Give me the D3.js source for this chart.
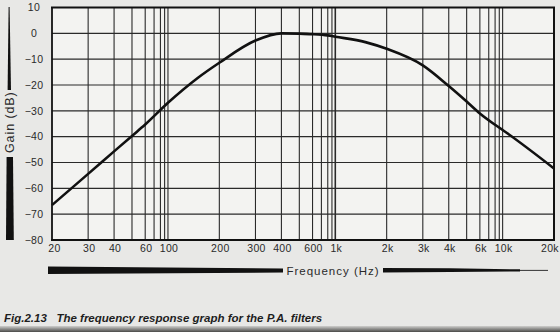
<!DOCTYPE html>
<html>
<head>
<meta charset="utf-8">
<script src="https://cdn.jsdelivr.net/npm/d3@7"></script>
<style>
  html, body { margin: 0; padding: 0; background: #e7e7e5; }
  svg { display: block; }
</style>
</head>
<body>
<svg id="chart" width="560" height="332"></svg>
<script>
// ---- data ----
const freqs = [20, 30, 40, 50, 60, 100, 150, 200, 300, 400, 500, 600, 800, 1000, 1500, 2000, 3000, 4000, 5000, 6000, 8000, 10000, 20000];
const gains = [-66.5, -54.4, -45.7, -39.7, -35.3, -26.9, -17.2, -11.4, -2.8, 0, -0.1, -0.3, -0.8, -1.3, -3.4, -6.0, -12.4, -20.4, -26.4, -31.0, -35.4, -37.4, -52.3];
const xTickValues = [20, 30, 40, 60, 100, 200, 300, 400, 600, 1000, 2000, 3000, 4000, 6000, 10000, 20000];
const xTickLabels = ["20", "30", "40", "60", "100", "200", "300", "400", "600", "1k", "2k", "3k", "4k", "6k", "10k", "20k"];
const yTickValues = [10, 0, -10, -20, -30, -40, -50, -60, -70, -80];
const yTickLabels = ["10", "0", "\u221210", "\u221220", "\u221230", "\u221240", "\u221250", "\u221260", "\u221270", "\u221280"];
const yLabel = "Gain (dB)";
const xLabel = "Frequency (Hz)";
const caption = "Fig.2.13   The frequency response graph for the P.A. filters";

// ---- layout ----
const L = 52, R = 554, T = 7.5, B = 240;
// position of 1..9 within a decade on this (hand-drawn) graph paper
const decadeFrac = [0, 0.307, 0.523, 0.678, 0.785, 0.864, 0.917, 0.955, 0.980];

// grid frequencies 20 .. 20000
const gridFreqs = [];
for (let k = 1; k <= 4; k++) {
  for (let m = 1; m <= 9; m++) {
    const f = m * Math.pow(10, k);
    if (f >= 20 && f <= 20000) gridFreqs.push(f);
  }
}
const paperUnit = f => {
  const k = Math.floor(Math.log10(f) + 1e-9);
  const m = Math.round(f / Math.pow(10, k));
  return k + decadeFrac[m - 1];
};
// piecewise scale from log-frequency to paper units, then to pixels
const paper = d3.scaleLinear()
  .domain(gridFreqs.map(f => Math.log10(f)))
  .range(gridFreqs.map(paperUnit));
const xPix = d3.scaleLinear()
  .domain([paper(Math.log10(20)), paper(Math.log10(20000))])
  .range([L, R]);
const x = f => xPix(paper(Math.log10(f)));
const y = d3.scaleLinear().domain([-80, 10]).range([B, T]);

const svg = d3.select("#chart");

// background
svg.append("rect").attr("x", 0).attr("y", 0).attr("width", 560).attr("height", 332).attr("fill", "#e8e8e6");
svg.append("rect").attr("x", L).attr("y", T).attr("width", R - L).attr("height", B - T).attr("fill", "#f3f3f1");

// bottom shadow
const defs = svg.append("defs");
const grad = defs.append("linearGradient").attr("id", "shade").attr("x1", 0).attr("y1", 0).attr("x2", 0).attr("y2", 1);
grad.append("stop").attr("offset", "0%").attr("stop-color", "#cfcfcd");
grad.append("stop").attr("offset", "100%").attr("stop-color", "#4a4a48");
svg.append("rect").attr("x", 0).attr("y", 326).attr("width", 560).attr("height", 6).attr("fill", "url(#shade)");

// grid
const g = svg.append("g");
g.selectAll("line.h").data(yTickValues.filter(v => v < 10 && v > -80)).enter().append("line")
  .attr("x1", L).attr("x2", R).attr("y1", d => y(d)).attr("y2", d => y(d))
  .attr("stroke", "#2a2a2a").attr("stroke-width", 1.1);
g.selectAll("line.v").data(gridFreqs.filter(f => f > 20 && f < 20000)).enter().append("line")
  .attr("y1", T).attr("y2", B).attr("x1", d => x(d)).attr("x2", d => x(d))
  .attr("stroke", "#2a2a2a").attr("stroke-width", d => (d === 1000 ? 1.6 : 1.1));

// frame
g.append("line").attr("x1", L - 1).attr("x2", R + 1).attr("y1", T).attr("y2", T).attr("stroke", "#111").attr("stroke-width", 2.2);
g.append("line").attr("x1", L - 1).attr("x2", R + 1).attr("y1", B).attr("y2", B).attr("stroke", "#111").attr("stroke-width", 2);
g.append("line").attr("x1", L).attr("x2", L).attr("y1", T).attr("y2", B).attr("stroke", "#111").attr("stroke-width", 1.8);
g.append("line").attr("x1", R).attr("x2", R).attr("y1", T).attr("y2", B).attr("stroke", "#111").attr("stroke-width", 2);

// curve
const line = d3.line()
  .x(d => x(d[0]))
  .y(d => y(d[1]))
  .curve(d3.curveMonotoneX);
svg.append("path")
  .datum(freqs.map((f, i) => [f, gains[i]]))
  .attr("d", line)
  .attr("fill", "none")
  .attr("stroke", "#111")
  .attr("stroke-width", 2.6)
  .attr("stroke-linejoin", "round");

// tick labels
const font = "'Liberation Sans', Arial, sans-serif";
svg.selectAll("text.yt").data(yTickValues).enter().append("text")
  .attr("x", 34).attr("y", d => y(d)).attr("dy", "0.35em")
  .attr("text-anchor", "middle")
  .attr("font-family", font).attr("font-size", 10.5).attr("fill", "#2a2a2a")
  .attr("letter-spacing", 0.3)
  .text((d, i) => yTickLabels[i]);
svg.selectAll("text.xt").data(xTickValues).enter().append("text")
  .attr("x", d => x(d) + (d === 20 ? 2.5 : (d === 20000 ? -4 : 1))).attr("y", 251.5)
  .attr("text-anchor", "middle")
  .attr("font-family", font).attr("font-size", 10.5).attr("fill", "#2a2a2a")
  .attr("letter-spacing", 0.3)
  .text((d, i) => xTickLabels[i]);

// y axis title with bars
svg.append("path").attr("d", "M8.6,7 L9.6,7 L11,90 L7.6,90 Z").attr("fill", "#111");
svg.append("path").attr("d", "M6.6,157 L13,157 L13.8,240 L6,240 Z").attr("fill", "#111");
svg.append("text")
  .attr("transform", "translate(13.5,153) rotate(-90)")
  .attr("font-family", font).attr("font-size", 12.5).attr("fill", "#2a2a2a")
  .attr("letter-spacing", 0.9)
  .text(yLabel);

// x axis title with bars
svg.append("path").attr("d", "M48,266.5 L283,268.5 L283,272.5 L48,274 Z").attr("fill", "#111");
svg.append("path").attr("d", "M383,268 L450,268.3 L520,269.3 L520,271.5 L450,272 L383,272.5 Z").attr("fill", "#111");
svg.append("line").attr("x1", 520).attr("x2", 548).attr("y1", 270.4).attr("y2", 270.4).attr("stroke", "#333").attr("stroke-width", 1);
svg.append("text")
  .attr("x", 333).attr("y", 274.5)
  .attr("text-anchor", "middle")
  .attr("font-family", font).attr("font-size", 11.5).attr("fill", "#2a2a2a")
  .attr("letter-spacing", 1)
  .text(xLabel);

// caption
svg.append("text")
  .attr("x", 4).attr("y", 322)
  .attr("font-family", font).attr("font-size", 11.5).attr("font-style", "italic").attr("font-weight", "bold")
  .attr("fill", "#1e1e1e")
  .attr("xml:space", "preserve")
  .style("white-space", "pre")
  .text(caption);
</script>
</body>
</html>
